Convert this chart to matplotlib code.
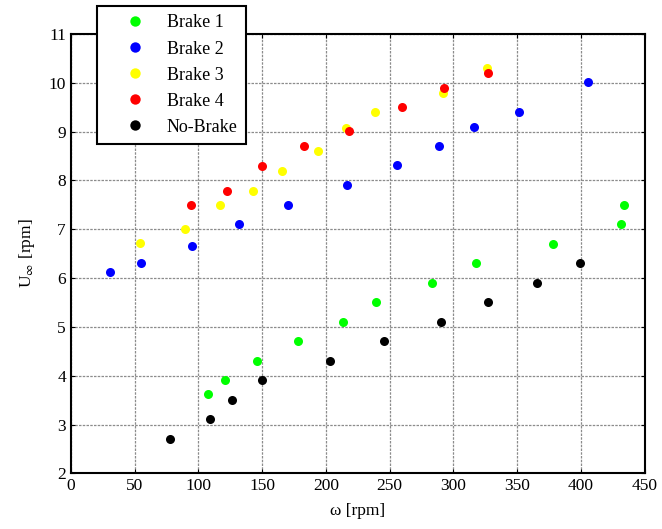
import matplotlib
matplotlib.use("Agg")
import matplotlib.pyplot as plt

plt.rcParams["font.family"] = ["Liberation Serif", "DejaVu Serif"]
plt.rcParams["mathtext.fontset"] = "stix"

# measured no-load speed vs. rotor speed for each brake setting
omega_b1 = [107.5, 120.6, 146, 178, 213.7, 239.5, 283.3, 317.6, 378, 431, 433.5]
u_b1 = [3.62, 3.92, 4.30, 4.71, 5.11, 5.51, 5.90, 6.30, 6.70, 7.11, 7.50]

omega_b2 = [30.7, 55.3, 95, 131.6, 169.9, 216.6, 255.4, 289, 315.8, 351, 405.2]
u_b2 = [6.12, 6.31, 6.65, 7.11, 7.49, 7.90, 8.31, 8.71, 9.09, 9.39, 10.01]

omega_b3 = [54.3, 89.7, 117, 143, 165.7, 193.8, 215.6, 238.4, 291.9, 326]
u_b3 = [6.71, 7.00, 7.49, 7.79, 8.20, 8.61, 9.08, 9.39, 9.79, 10.31]

omega_b4 = [94.1, 122.2, 150, 182.5, 217.9, 259.3, 292.9, 327.3]
u_b4 = [7.49, 7.79, 8.30, 8.71, 9.01, 9.50, 9.90, 10.20]

omega_nb = [77.4, 108.8, 126.4, 150, 203.2, 245.8, 290.6, 327, 365.6, 399]
u_nb = [2.71, 3.12, 3.51, 3.92, 4.30, 4.71, 5.11, 5.52, 5.90, 6.30]

series = [
    ("Brake 1", omega_b1, u_b1, "#00ff00"),
    ("Brake 2", omega_b2, u_b2, "#0000ff"),
    ("Brake 3", omega_b3, u_b3, "#ffff00"),
    ("Brake 4", omega_b4, u_b4, "#ff0000"),
    ("No-Brake", omega_nb, u_nb, "#000000"),
]

fig = plt.figure(figsize=(6.62, 5.29), dpi=100)
ax = fig.add_axes([0.107, 0.105, 0.867, 0.831])

for label, x, y, color in series:
    ax.plot(x, y, "o", color=color, markersize=6.5, markeredgewidth=0, label=label)

ax.set_xlim(0, 450)
ax.set_ylim(2, 11)
ax.set_xticks(range(0, 451, 50))
ax.set_yticks(range(2, 12))
ax.grid(True, color="#8c8c8c", linestyle=(0, (2, 1)), linewidth=0.9)
ax.set_axisbelow(True)
ax.tick_params(direction="in", top=True, right=True, length=3, labelsize=12.5, width=0.8)
for spine in ax.spines.values():
    spine.set_linewidth(1.5)

ax.set_xlabel("ω [rpm]", fontsize=12.5, labelpad=6)
ax.set_ylabel(r"U$_\infty$ [rpm]", fontsize=12.5, labelpad=8)

leg = ax.legend(
    loc="upper left",
    bbox_to_anchor=(0.1465, 0.989),
    bbox_transform=fig.transFigure,
    borderaxespad=0,
    fontsize=13,
    frameon=True,
    fancybox=False,
    handlelength=3.21,
    handletextpad=0.17,
    borderpad=0.48,
    labelspacing=0.5,
    markerscale=1.15,
)
leg.get_frame().set_edgecolor("black")
leg.get_frame().set_linewidth(1.5)
leg.get_frame().set_alpha(1)

fig.savefig("out.png", dpi=100)
